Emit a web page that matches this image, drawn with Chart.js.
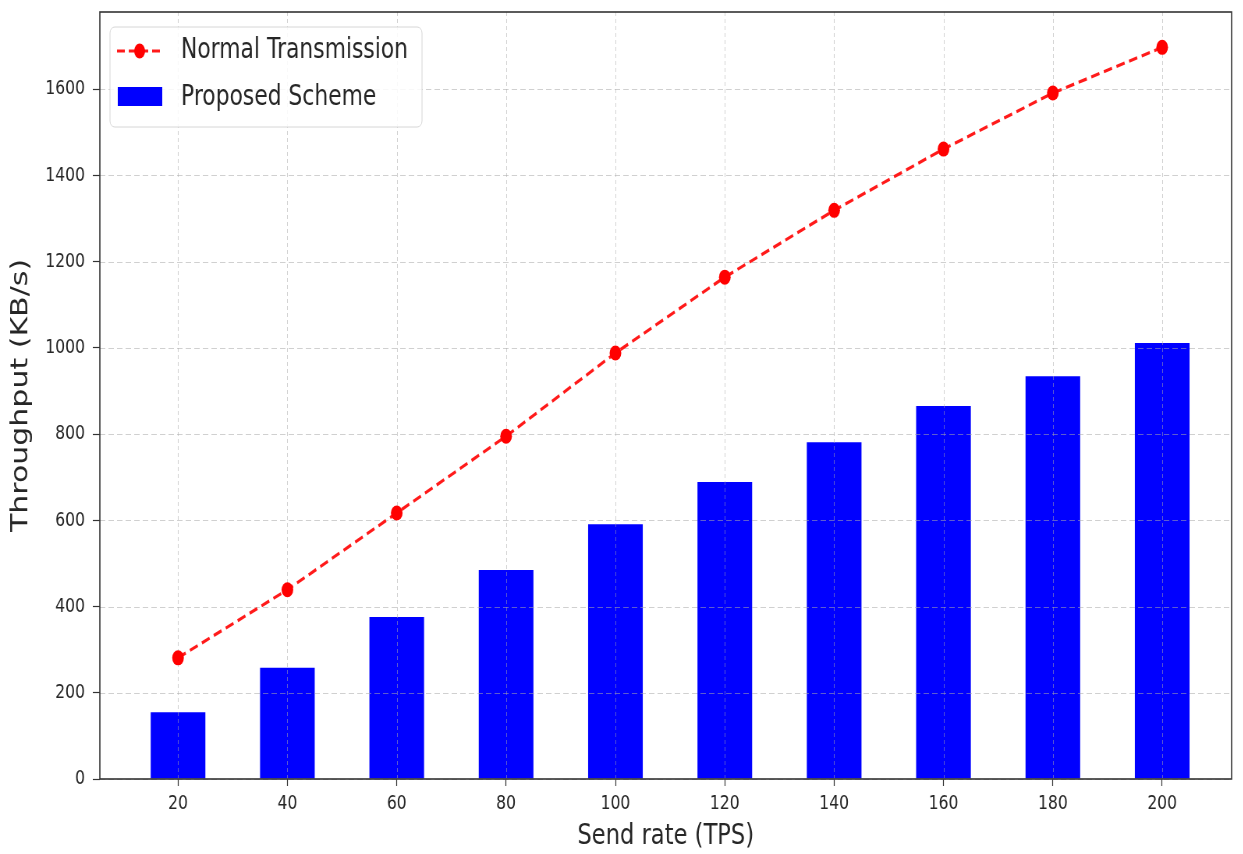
<!DOCTYPE html>
<html>
<head>
<meta charset="utf-8">
<title>Throughput vs send rate</title>
<script src="https://cdn.jsdelivr.net/npm/chart.js@4.4.1/dist/chart.umd.min.js"></script>
<style>
    html, body { margin: 0; padding: 0; background: #fff; overflow: hidden; }
    #wrap { width: 1243px; height: 854px; overflow: hidden; }
    /* the source picture is squeezed sideways, so draw wide and squeeze */
    #throughput-chart { display: block; transform: scaleX(0.78); transform-origin: 0 0; }
</style>
</head>
<body>
<div id="wrap"><canvas id="throughput-chart" width="1594" height="854"></canvas></div>
<script>
var sendRates = [20, 40, 60, 80, 100, 120, 140, 160, 180, 200];
var normalThroughput = [281, 439, 617, 795, 988, 1164, 1319, 1461, 1591, 1697];
var proposedThroughput = [155, 258, 376, 485, 591, 689, 781, 865, 934, 1011];
var xTicks = [20, 40, 60, 80, 100, 120, 140, 160, 180, 200];
var yTicks = [0, 200, 400, 600, 800, 1000, 1200, 1400, 1600];

var FONT = 'DejaVu Sans';
var TEXT = '#262626';

document.addEventListener('DOMContentLoaded', function () {
    initThroughputChart();
});

function toPoints(values) {
    return sendRates.map(function (x, i) { return { x: x, y: values[i] }; });
}

// dashed grid drawn over the bars but under the red line
var gridPlugin = {
    id: 'mplGrid',
    beforeDatasetDraw: function (chart, args) {
        if (args.index !== 0) return;
        var ctx = chart.ctx;
        var area = chart.chartArea;
        var xs = chart.scales.x;
        var ys = chart.scales.y;
        ctx.save();
        ctx.strokeStyle = 'rgba(170, 170, 170, 0.55)';
        ctx.lineWidth = 1;
        ctx.setLineDash([4, 3]);
        xTicks.forEach(function (v) {
            var px = Math.round(xs.getPixelForValue(v)) + 0.5;
            ctx.beginPath();
            ctx.moveTo(px, area.top);
            ctx.lineTo(px, area.bottom);
            ctx.stroke();
        });
        ctx.setLineDash([7, 4]);
        yTicks.forEach(function (v) {
            var py = Math.round(ys.getPixelForValue(v)) + 0.5;
            ctx.beginPath();
            ctx.moveTo(area.left, py);
            ctx.lineTo(area.right, py);
            ctx.stroke();
        });
        ctx.restore();
    }
};

// axes frame and the legend box in the upper left
var framePlugin = {
    id: 'mplFrame',
    afterDraw: function (chart) {
        var ctx = chart.ctx;
        var area = chart.chartArea;
        ctx.save();
        ctx.strokeStyle = '#333';
        ctx.lineWidth = 1.6;
        ctx.strokeRect(area.left, area.top, area.right - area.left, area.bottom - area.top);

        var bx = 141, by = 27, bw = 400, bh = 100;
        ctx.beginPath();
        ctx.roundRect(bx, by, bw, bh, 6);
        ctx.fillStyle = 'rgba(255, 255, 255, 0.85)';
        ctx.fill();
        ctx.strokeStyle = '#d6d6d6';
        ctx.lineWidth = 1;
        ctx.stroke();

        var ds = chart.data.datasets;
        ctx.strokeStyle = '#ff1a1a';
        ctx.lineWidth = 3;
        ctx.setLineDash([10, 5]);
        ctx.beginPath();
        ctx.moveTo(150, 51);
        ctx.lineTo(208, 51);
        ctx.stroke();
        ctx.setLineDash([]);
        ctx.fillStyle = '#ff0000';
        ctx.beginPath();
        ctx.ellipse(179, 51, 7, 7.5, 0, 0, Math.PI * 2);
        ctx.fill();

        ctx.fillStyle = '#0000ff';
        ctx.fillRect(151, 87, 57, 19);

        ctx.fillStyle = TEXT;
        ctx.font = '28px "' + FONT + '"';
        ctx.textAlign = 'left';
        ctx.textBaseline = 'middle';
        ctx.fillText(ds[0].label, 232, 51);
        ctx.fillText(ds[1].label, 232, 98);
        ctx.restore();
    }
};

function initThroughputChart() {
    var canvasEl = document.getElementById('throughput-chart');
    if (!canvasEl) return;

    new Chart(canvasEl, {
        type: 'bar',
        data: {
            datasets: [{
                type: 'line',
                label: 'Normal Transmission',
                data: toPoints(normalThroughput),
                borderColor: '#ff1a1a',
                borderWidth: 3.2,
                borderDash: [11, 6],
                pointBackgroundColor: '#ff0000',
                pointBorderColor: '#ff0000',
                pointRadius: 7.5,
                pointBorderWidth: 0,
                fill: false,
                tension: 0,
                order: 0
            }, {
                type: 'bar',
                label: 'Proposed Scheme',
                data: toPoints(proposedThroughput),
                backgroundColor: '#0000ff',
                borderWidth: 0,
                barPercentage: 0.5,
                categoryPercentage: 1,
                order: 1
            }]
        },
        plugins: [gridPlugin, framePlugin],
        options: {
            responsive: false,
            animation: false,
            layout: { padding: { left: 0, top: 12, right: 15, bottom: 0 } },
            plugins: {
                legend: { display: false },
                tooltip: { enabled: false }
            },
            scales: {
                x: {
                    type: 'linear',
                    min: 5.7,
                    max: 212.7,
                    offset: false,
                    afterBuildTicks: function (scale) {
                        scale.ticks = xTicks.map(function (v) { return { value: v }; });
                    },
                    afterFit: function (scale) {
                        scale.height = 75;
                        scale.paddingLeft = 0;
                        scale.paddingRight = 0;
                    },
                    ticks: {
                        font: { family: FONT, size: 20 },
                        color: TEXT,
                        padding: 6,
                        maxRotation: 0,
                        autoSkip: false,
                        callback: function (val) { return String(val); }
                    },
                    grid: {
                        offset: false,
                        drawOnChartArea: false,
                        drawTicks: true,
                        tickLength: 7,
                        tickColor: '#333',
                        tickWidth: 1.2
                    },
                    border: { display: false },
                    title: {
                        display: true,
                        text: 'Send rate (TPS)',
                        font: { family: FONT, size: 29 },
                        color: TEXT,
                        padding: { top: 0, bottom: 0 }
                    }
                },
                y: {
                    min: 0,
                    max: 1779,
                    afterBuildTicks: function (scale) {
                        scale.ticks = yTicks.map(function (v) { return { value: v }; });
                    },
                    afterFit: function (scale) {
                        scale.width = 128;
                        scale.paddingTop = 0;
                        scale.paddingBottom = 0;
                    },
                    ticks: {
                        font: { family: FONT, size: 20 },
                        color: TEXT,
                        padding: 10,
                        callback: function (val) { return String(val); }
                    },
                    grid: {
                        drawOnChartArea: false,
                        drawTicks: true,
                        tickLength: 9,
                        tickColor: '#333',
                        tickWidth: 1.2
                    },
                    border: { display: false },
                    title: {
                        display: true,
                        text: 'Throughput (KB/s)',
                        font: { family: FONT, size: 30 },
                        color: TEXT,
                        padding: { top: 9, bottom: 0 }
                    }
                }
            }
        }
    });
}
</script>
</body>
</html>
